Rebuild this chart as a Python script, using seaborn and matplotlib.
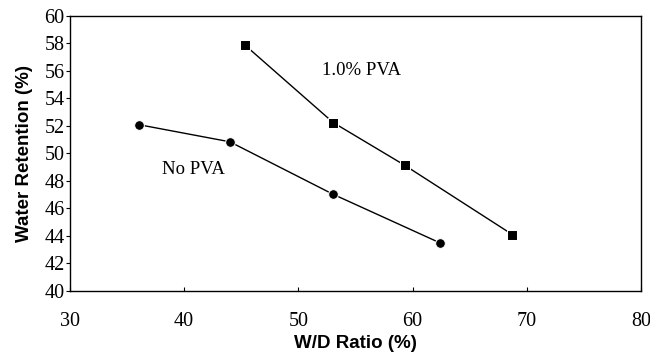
import numpy as np
import pandas as pd
import matplotlib
matplotlib.use("Agg")
import matplotlib.pyplot as plt
import seaborn as sns

# data
wd_no_pva = [36.0, 44.0, 53.0, 62.4]
wr_no_pva = [52.1, 50.85, 47.05, 43.5]
wd_pva = [45.3, 53.05, 59.3, 68.75]
wr_pva = [57.9, 52.25, 49.15, 44.1]
x_ticks = [30, 40, 50, 60, 70, 80]
y_ticks = list(range(40, 61, 2))

df = pd.concat([
    pd.DataFrame({"wd": wd_no_pva, "wr": wr_no_pva, "series": "No PVA"}),
    pd.DataFrame({"wd": wd_pva, "wr": wr_pva, "series": "1.0% PVA"}),
])

sns.set_style("ticks")
plt.rcParams['font.family'] = ['Liberation Serif', 'DejaVu Serif']
plt.rcParams['text.color'] = 'black'
plt.rcParams['xtick.color'] = 'black'
plt.rcParams['ytick.color'] = 'black'
plt.rcParams['axes.labelcolor'] = 'black'

fig = plt.figure(figsize=(6.5, 3.6), dpi=100)
ax = fig.add_axes([0.1077, 0.1917, 0.8783, 0.7639])

sns.lineplot(data=df, x="wd", y="wr", style="series", markers={"No PVA": "o", "1.0% PVA": "s"},
             dashes=False, color="black", lw=1.0, markersize=7, sort=False,
             legend=False, ax=ax)

ax.text(52.1, 56.05, "1.0% PVA", fontsize=13.5, va="center", ha="left")
ax.text(38.1, 48.8, "No PVA", fontsize=13.5, va="center", ha="left")

ax.set_xlim(30, 80)
ax.set_ylim(40, 60)
ax.set_xticks(x_ticks)
ax.set_yticks(y_ticks)
ax.tick_params(axis='x', direction='in', length=3, labelsize=14.5, pad=15)
ax.tick_params(axis='y', direction='out', length=3, labelsize=14.5, pad=1)
for s in ax.spines.values():
    s.set_visible(True)
    s.set_linewidth(1.0)
    s.set_color("black")

ax.set_xlabel("W/D Ratio (%)", fontsize=13.5, fontweight="bold", family="Liberation Sans", labelpad=3)
ax.set_ylabel("Water Retention (%)", fontsize=13.5, fontweight="bold", family="Liberation Sans", labelpad=8)

fig.savefig("out.png", dpi=100)
